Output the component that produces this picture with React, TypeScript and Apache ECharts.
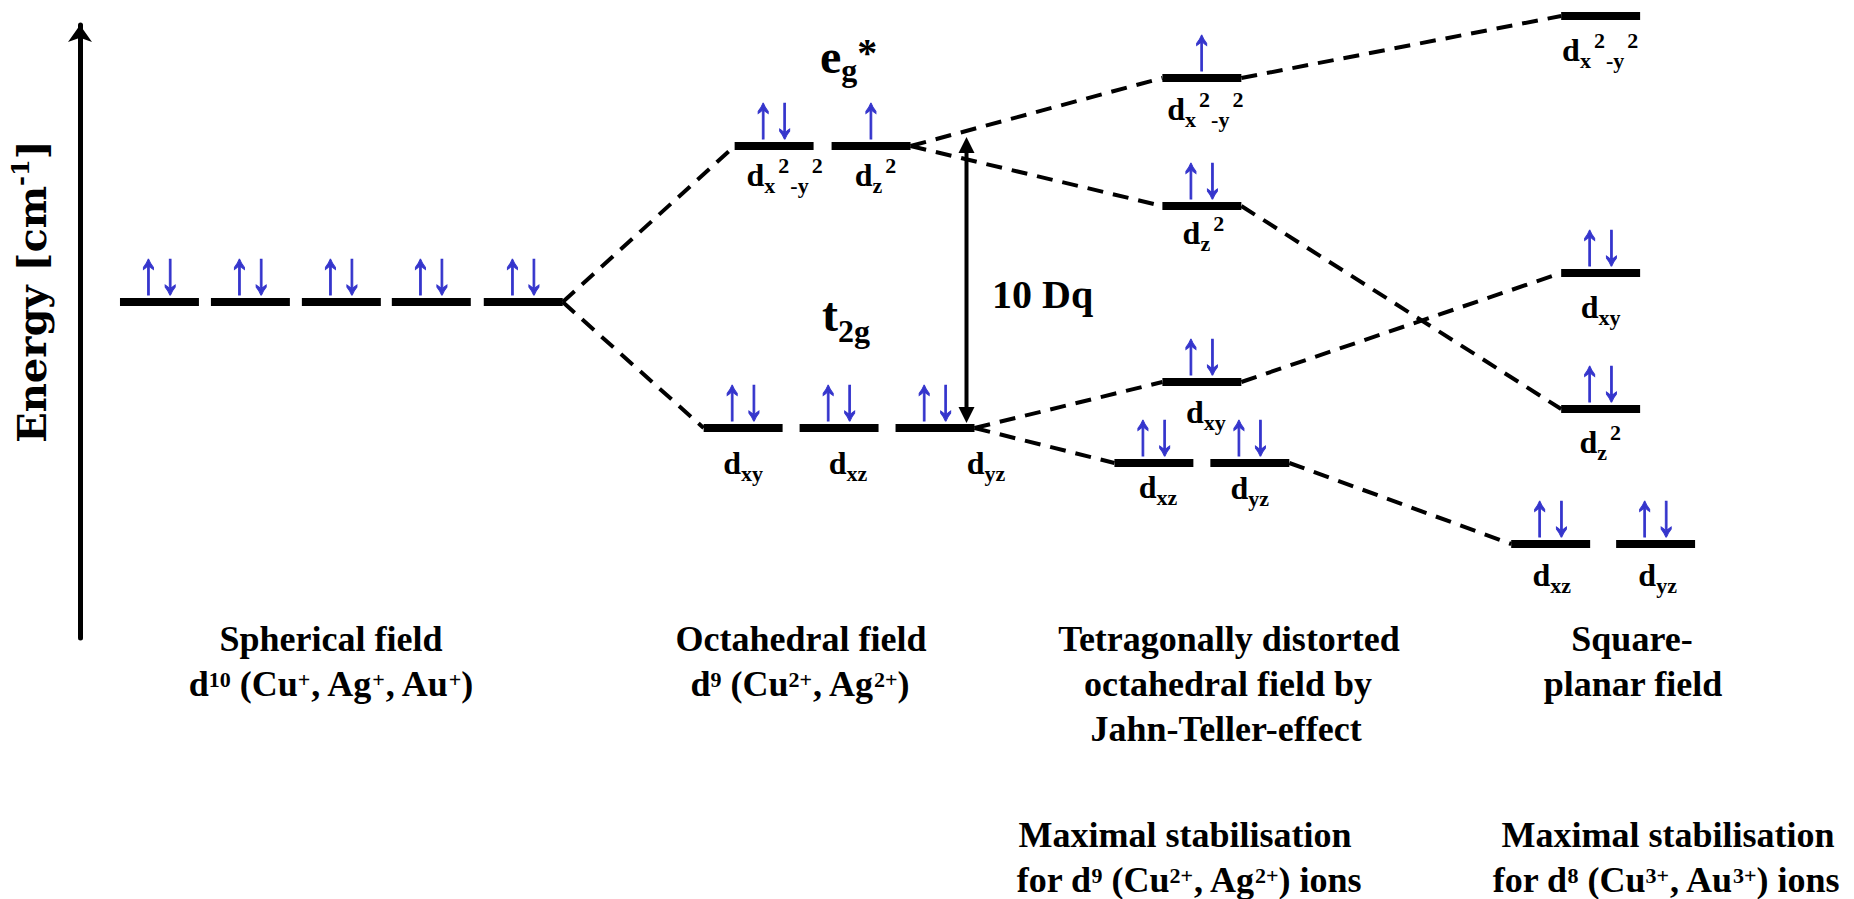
import { useEffect, useRef } from "react";
import * as echarts from "echarts";

// ---------------- data ----------------
// field index of each orbital level: 0 spherical, 1 octahedral, 2 tetragonal (Jahn-Teller), 3 square-planar
const levelField = [0, 0, 0, 0, 0, 1, 1, 1, 1, 1, 2, 2, 2, 2, 2, 3, 3, 3, 3, 3];
const levelOrbital = [
  "d", "d", "d", "d", "d",
  "dx2-y2", "dz2", "dxy", "dxz", "dyz",
  "dx2-y2", "dz2", "dxy", "dxz", "dyz",
  "dx2-y2", "dxy", "dz2", "dxz", "dyz",
];
// relative energy (arbitrary units, spherical field = 0)
const levelEnergy = [
  0, 0, 0, 0, 0,
  156, 156, -126, -126, -126,
  224, 96, -80, -161, -161,
  286, 29, -107, -242, -242,
];
const levelElectrons = [2, 2, 2, 2, 2, 2, 1, 2, 2, 2, 1, 2, 2, 2, 2, 0, 2, 2, 2, 2];
const spinText = ["", "↑", "↑↓"];
// correlation lines: from level index -> to level index
const connectorFrom = [4, 4, 6, 6, 9, 9, 10, 11, 12, 14];
const connectorTo = [5, 7, 10, 11, 12, 13, 15, 17, 16, 18];
// 10 Dq splitting between t2g (index 7) and eg (index 5)
const splitLowIndex = 7;
const splitHighIndex = 5;
const splitText = "10 Dq";
const egText = "{m|e}{s|g}{a|*}";
const t2gText = "{m|t}{s|2g}";
const axisTitle = "{a|Energy [cm}{s|-1}{a|]}";
const captionLines = [
  "Spherical field", "d{p|10} (Cu{p|+}, Ag{p|+}, Au{p|+})",
  "Octahedral field", "d{p|9} (Cu{p|2+}, Ag{p|2+})",
  "Tetragonally distorted", "octahedral field by", "Jahn-Teller-effect",
  "Square-", "planar field",
  "Maximal stabilisation", "for d{p|9} (Cu{p|2+}, Ag{p|2+}) ions",
  "Maximal stabilisation", "for d{p|8} (Cu{p|3+}, Au{p|3+}) ions",
];

// ---------------- layout ----------------
const barStart = [119, 210, 301, 391, 483, 734, 831, 703, 799, 895, 1162, 1162, 1162, 1114, 1210, 1561, 1561, 1561, 1511, 1616];
const BAR_W = 79;
const BAR_H = 8;
const labelDx = [0, 0, 0, 0, 0, 11, 5, 0, 9, 51, 4, 2, 4, 4, 0, 0, 0, 0, 1, 2];
const labelDy = [0, 0, 0, 0, 0, 29, 29, 35, 35, 35, 31, 27, 30, 24, 25, 34, 34, 33, 31, 31];
const captionPos = [
  [331, 639], [331, 684],
  [801, 639], [800, 684],
  [1229, 639], [1228, 684], [1226, 729],
  [1632, 639], [1633, 684],
  [1185, 835], [1189, 880],
  [1668, 835], [1666, 880],
];
const SPLIT_X = 966;

const SERIF = '"Liberation Serif", "Times New Roman", serif';
const ARROW_FONT = '"Liberation Sans", "DejaVu Sans", sans-serif';
const BLUE = "#3535cc";

function orbitalRich(name: string): string {
  if (name === "dx2-y2") return "{d|d}{s|x}{p|2}{s|-y}{p|2}";
  if (name === "dz2") return "{d|d}{s|z}{p|2}";
  return "{d|d}{s|" + name.slice(1) + "}";
}

const labelRich = {
  d: { fontFamily: SERIF, fontWeight: "bold", fontSize: 32, fill: "#000" },
  s: { fontFamily: SERIF, fontWeight: "bold", fontSize: 22, fill: "#000", padding: [21, 0, 0, 0] },
  p: { fontFamily: SERIF, fontWeight: "bold", fontSize: 22, fill: "#000", padding: [0, 1, 19, 3] },
};

const supRich = {
  p: { fontFamily: SERIF, fontWeight: "bold", fontSize: 22, fill: "#000", padding: [0, 0, 10, 0] },
};

function textEl(text: string, x: number, y: number, font: string, align: string, rich?: any) {
  return {
    type: "text",
    x,
    y,
    silent: true,
    style: {
      text,
      font,
      fill: "#000",
      align,
      textAlign: align,
      verticalAlign: "middle",
      textVerticalAlign: "middle",
      rich,
    },
  };
}

export default function App() {
  const ref = useRef<HTMLDivElement>(null);

  useEffect(() => {
    document.body.style.margin = "0";
    if (!ref.current) return;
    const chart = echarts.init(ref.current, null, { renderer: "svg" });

    const levelData = levelEnergy.map((e, i) => [barStart[i], barStart[i] + BAR_W, e, i]);
    const connectorData = connectorFrom.map((f, k) => {
      const t = connectorTo[k];
      return [barStart[f] + BAR_W, levelEnergy[f], barStart[t], levelEnergy[t]];
    });
    const splitData = [[SPLIT_X, levelEnergy[splitLowIndex], levelEnergy[splitHighIndex]]];

    const graphicEls: any[] = [];
    graphicEls.push(
      textEl(egText, 820, 56, `bold 48px ${SERIF}`, "left", {
        m: { fontFamily: SERIF, fontWeight: "bold", fontSize: 48, fill: "#000" },
        s: { fontFamily: SERIF, fontWeight: "bold", fontSize: 32, fill: "#000", padding: [28, 0, 0, 0] },
        a: { fontFamily: SERIF, fontWeight: "bold", fontSize: 40, fill: "#000", padding: [0, 0, 8, 0] },
      })
    );
    graphicEls.push(
      textEl(t2gText, 822, 314, `bold 48px ${SERIF}`, "left", {
        m: { fontFamily: SERIF, fontWeight: "bold", fontSize: 48, fill: "#000" },
        s: { fontFamily: SERIF, fontWeight: "bold", fontSize: 32, fill: "#000", padding: [34, 0, 0, 0] },
      })
    );
    graphicEls.push(textEl(splitText, 992, 294, `bold 40px ${SERIF}`, "left"));
    captionLines.forEach((line, i) => {
      graphicEls.push(textEl(line, captionPos[i][0], captionPos[i][1], `bold 36px ${SERIF}`, "center", supRich));
    });

    const option: any = {
      animation: false,
      backgroundColor: "#ffffff",
      grid: { left: 79, right: 0, top: 25, bottom: 261, containLabel: false },
      xAxis: { type: "value", min: 79, max: 1854, show: false },
      yAxis: {
        type: "value",
        min: -336,
        max: 277,
        name: axisTitle,
        nameLocation: "middle",
        nameRotate: 90,
        nameGap: 26,
        nameTextStyle: {
          padding: [0, 0, 0, 80],
          rich: {
            a: { fontFamily: '"DejaVu Serif", serif', fontWeight: "bold", fontSize: 40, color: "#000" },
            s: { fontFamily: '"DejaVu Serif", serif', fontWeight: "bold", fontSize: 24, color: "#000", padding: [0, 0, 22, 0] },
          },
        },
        axisLine: {
          show: true,
          onZero: false,
          symbol: ["none", "arrow"],
          symbolSize: [18, 17],
          lineStyle: { color: "#000", width: 5 },
        },
        axisTick: { show: false },
        axisLabel: { show: false },
        splitLine: { show: false },
      },
      series: [
        {
          type: "custom",
          name: "correlation",
          coordinateSystem: "cartesian2d",
          clip: false,
          silent: true,
          data: connectorData,
          encode: { x: [0, 2], y: [1, 3] },
          renderItem: (_p: any, api: any) => {
            const a = api.coord([api.value(0), api.value(1)]);
            const b = api.coord([api.value(2), api.value(3)]);
            return {
              type: "line",
              shape: { x1: a[0], y1: a[1], x2: b[0], y2: b[1] },
              style: { stroke: "#000", lineWidth: 4, lineDash: [16, 10] },
            };
          },
        },
        {
          type: "custom",
          name: "levels",
          coordinateSystem: "cartesian2d",
          clip: false,
          silent: true,
          data: levelData,
          encode: { x: [0, 1], y: 2 },
          renderItem: (_p: any, api: any) => {
            const i = api.value(3);
            const p0 = api.coord([api.value(0), api.value(2)]);
            const p1 = api.coord([api.value(1), api.value(2)]);
            const cx = (p0[0] + p1[0]) / 2;
            const y = p0[1];
            const children: any[] = [
              {
                type: "rect",
                shape: { x: p0[0], y: y - BAR_H / 2, width: p1[0] - p0[0], height: BAR_H },
                style: { fill: "#000" },
              },
            ];
            const n = levelElectrons[i];
            if (n > 0) {
              children.push({
                type: "text",
                x: cx,
                y: y - 30,
                scaleX: 0.72,
                style: {
                  text: spinText[n],
                  font: `60px ${ARROW_FONT}`,
                  fill: BLUE,
                  stroke: BLUE,
                  lineWidth: 1.2,
                  align: "center",
                  textAlign: "center",
                  verticalAlign: "middle",
                  textVerticalAlign: "middle",
                },
              });
            }
            if (levelField[i] !== 0) {
              children.push({
                type: "text",
                x: cx + labelDx[i],
                y: y + labelDy[i],
                style: {
                  text: orbitalRich(levelOrbital[i]),
                  font: `bold 32px ${SERIF}`,
                  fill: "#000",
                  align: "center",
                  textAlign: "center",
                  verticalAlign: "middle",
                  textVerticalAlign: "middle",
                  rich: labelRich,
                },
              });
            }
            return { type: "group", children };
          },
        },
        {
          type: "custom",
          name: "10 Dq",
          coordinateSystem: "cartesian2d",
          clip: false,
          silent: true,
          data: splitData,
          encode: { x: 0, y: [1, 2] },
          renderItem: (_p: any, api: any) => {
            const x = api.coord([api.value(0), api.value(1)])[0];
            const bottom = api.coord([api.value(0), api.value(1)])[1] - 5;
            const top = api.coord([api.value(0), api.value(2)])[1] - 9;
            const hl = 16;
            const hw = 8;
            return {
              type: "group",
              children: [
                {
                  type: "line",
                  shape: { x1: x, y1: top + hl - 2, x2: x, y2: bottom - hl + 2 },
                  style: { stroke: "#000", lineWidth: 4 },
                },
                {
                  type: "polygon",
                  shape: { points: [[x, top], [x - hw, top + hl], [x + hw, top + hl]] },
                  style: { fill: "#000" },
                },
                {
                  type: "polygon",
                  shape: { points: [[x, bottom], [x - hw, bottom - hl], [x + hw, bottom - hl]] },
                  style: { fill: "#000" },
                },
              ],
            };
          },
        },
      ],
      graphic: { elements: graphicEls },
    };

    chart.setOption(option);
    return () => {
      chart.dispose();
    };
  }, []);

  return <div ref={ref} style={{ width: 1854, height: 899, background: "#fff" }} />;
}
